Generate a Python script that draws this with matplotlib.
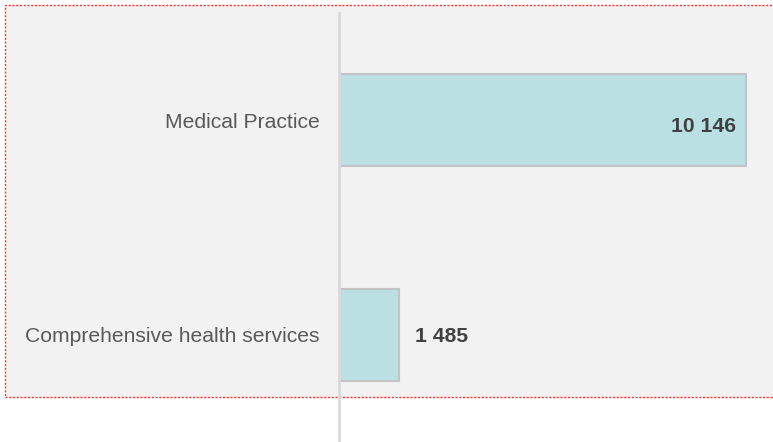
import matplotlib
matplotlib.use("Agg")
import matplotlib.pyplot as plt
from matplotlib.patches import Rectangle

categories = ["Medical Practice", "Comprehensive health services"]
values = [10146, 1485]
value_labels = ["10 146", "1 485"]

W, H = 773, 442
dpi = 100
fig = plt.figure(figsize=(W / dpi, H / dpi), dpi=dpi)
fig.patch.set_facecolor("white")

# background panel with dotted red border
bg = Rectangle((5 / W, 1 - 397 / H), (W - 5) / W + 0.01, (397 - 5) / H,
               transform=fig.transFigure, facecolor="#f2f2f2",
               edgecolor="#ff3030", linewidth=1.0, linestyle=(0, (1.5, 1.2)),
               zorder=-5)
fig.patches.append(bg)

ax_left, ax_right = 339, 760
ax_top, ax_bottom = 13, 442
ax = fig.add_axes([ax_left / W, 1 - ax_bottom / H, (ax_right - ax_left) / W, (ax_bottom - ax_top) / H])
ax.set_facecolor("none")
ax.set_zorder(2)

y = list(range(len(categories)))
ax.barh(y, values, height=0.43, color="#bae0e3", edgecolor="#c3c3c3", linewidth=1.5, zorder=2)
ax.set_ylim(len(categories) - 0.5, -0.5)
xmax = values[0] * (ax_right - ax_left) / (746 - ax_left)
ax.set_xlim(0, xmax)

ax.set_yticks(y)
ax.set_yticklabels(categories, fontsize=15.25, color="#595959", fontfamily="Liberation Sans")
ax.tick_params(axis="y", length=0, pad=14)
ax.set_xticks([])
for s in ["top", "right", "bottom"]:
    ax.spines[s].set_visible(False)
ax.spines["left"].set_color("#d9d9d9")
ax.spines["left"].set_linewidth(2)
ax.spines["left"].set_zorder(3)

# value labels
ax.annotate(value_labels[0], xy=(values[0], y[0]), xytext=(-7, -4.5), textcoords="offset points",
            ha="right", va="center", fontsize=15.25, fontweight="bold", color="#404040",
            fontfamily="Liberation Sans", zorder=4)
ax.annotate(value_labels[1], xy=(values[1], y[1]), xytext=(11.5, -1.2), textcoords="offset points",
            ha="left", va="center", fontsize=15.25, fontweight="bold", color="#404040",
            fontfamily="Liberation Sans", zorder=4)

fig.savefig("out.png", dpi=dpi)
